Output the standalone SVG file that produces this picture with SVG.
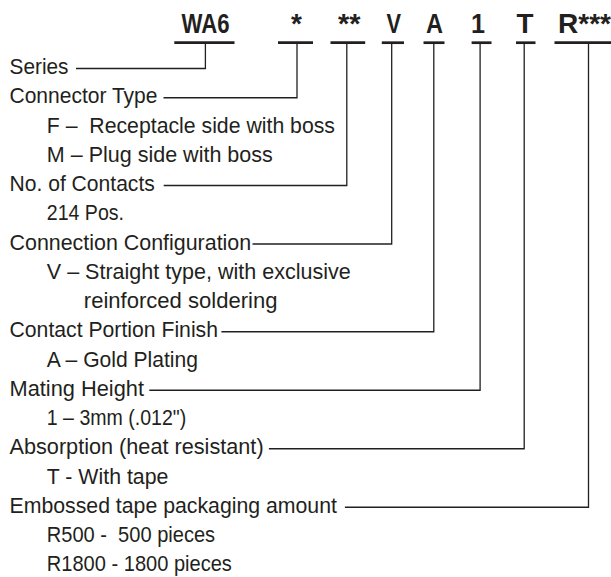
<svg xmlns="http://www.w3.org/2000/svg" width="611" height="577" viewBox="0 0 611 577">
<style>
.code{font-family:"Liberation Sans",Arial,sans-serif;font-weight:bold;font-size:28px;fill:#231f20}
.lbl{font-family:"Liberation Sans",Arial,sans-serif;font-size:21.5px;fill:#231f20}
.bar{stroke:#231f20;stroke-width:2.7;fill:none}
.con{stroke:#231f20;stroke-width:1.3;fill:none}
</style>
<rect width="611" height="577" fill="#ffffff"/>
<g id="codes">
<g id="code-wa6"><text class="code" x="181.5" y="32.5" textLength="48" lengthAdjust="spacingAndGlyphs">WA6</text><line class="bar" x1="174.3" y1="42.7" x2="234.5" y2="42.7"/></g>
<g id="code-type"><text class="code" x="296.5" y="32.5" text-anchor="middle">*</text><line class="bar" x1="278" y1="42.7" x2="313" y2="42.7"/></g>
<g id="code-contacts"><text class="code" x="338" y="32.5" textLength="22.5" lengthAdjust="spacingAndGlyphs">**</text><line class="bar" x1="330.5" y1="42.7" x2="365.2" y2="42.7"/></g>
<g id="code-config"><text class="code" x="386.5" y="32.5" textLength="14.5" lengthAdjust="spacingAndGlyphs">V</text><line class="bar" x1="381.8" y1="42.7" x2="404" y2="42.7"/></g>
<g id="code-finish"><text class="code" x="426" y="32.5" textLength="17" lengthAdjust="spacingAndGlyphs">A</text><line class="bar" x1="423.5" y1="42.7" x2="444.5" y2="42.7"/></g>
<g id="code-height"><text class="code" x="471" y="32.5" textLength="14" lengthAdjust="spacingAndGlyphs">1</text><line class="bar" x1="471.6" y1="42.7" x2="491.5" y2="42.7"/></g>
<g id="code-absorb"><text class="code" x="516.5" y="32.5" textLength="17" lengthAdjust="spacingAndGlyphs">T</text><line class="bar" x1="516" y1="42.7" x2="535.5" y2="42.7"/></g>
<g id="code-pack"><text class="code" x="558" y="32.5" textLength="53" lengthAdjust="spacingAndGlyphs">R***</text><line class="bar" x1="554.5" y1="42.7" x2="611" y2="42.7"/></g>
</g>
<g id="connectors">
<polyline class="con" points="205.4,44 205.4,68.5 76,68.5"/>
<polyline class="con" points="297,44 297,97.75 163.5,97.75"/>
<polyline class="con" points="346.8,44 346.8,185.5 163.7,185.5"/>
<polyline class="con" points="391.7,44 391.7,244 252.5,244"/>
<polyline class="con" points="433.8,44 433.8,331.75 221.4,331.75"/>
<polyline class="con" points="480.1,44 480.1,390.25 149.3,390.25"/>
<polyline class="con" points="524.2,44 524.2,448.75 268.9,448.75"/>
<polyline class="con" points="588.5,44 588.5,507.25 344.9,507.25"/>
</g>
<g id="label-series"><text class="lbl" x="9.5" y="74" textLength="59" lengthAdjust="spacingAndGlyphs">Series</text></g>
<g id="label-type">
<text class="lbl" x="9.5" y="103.25" textLength="148" lengthAdjust="spacingAndGlyphs">Connector Type</text>
<text class="lbl" x="46.8" y="132.5" textLength="288.2" lengthAdjust="spacingAndGlyphs" xml:space="preserve">F –  Receptacle side with boss</text>
<text class="lbl" x="46.8" y="161.75" textLength="226" lengthAdjust="spacingAndGlyphs">M – Plug side with boss</text>
</g>
<g id="label-contacts">
<text class="lbl" x="9.5" y="191" textLength="145.3" lengthAdjust="spacingAndGlyphs">No. of Contacts</text>
<text class="lbl" x="46.8" y="220.25" textLength="77.2" lengthAdjust="spacingAndGlyphs">214 Pos.</text>
</g>
<g id="label-config">
<text class="lbl" x="9.5" y="249.5" textLength="241.7" lengthAdjust="spacingAndGlyphs">Connection Configuration</text>
<text class="lbl" x="46.8" y="278.75" textLength="303.9" lengthAdjust="spacingAndGlyphs">V – Straight type, with exclusive</text>
<text class="lbl" x="83.8" y="308" textLength="193.7" lengthAdjust="spacingAndGlyphs">reinforced soldering</text>
</g>
<g id="label-finish">
<text class="lbl" x="9.5" y="337.25" textLength="208.5" lengthAdjust="spacingAndGlyphs">Contact Portion Finish</text>
<text class="lbl" x="46.8" y="366.5" textLength="151.2" lengthAdjust="spacingAndGlyphs">A – Gold Plating</text>
</g>
<g id="label-height">
<text class="lbl" x="9.5" y="395.75" textLength="134.5" lengthAdjust="spacingAndGlyphs">Mating Height</text>
<text class="lbl" x="46.8" y="425" textLength="139.5" lengthAdjust="spacingAndGlyphs">1 – 3mm (.012")</text>
</g>
<g id="label-absorb">
<text class="lbl" x="9.5" y="454.25" textLength="254.1" lengthAdjust="spacingAndGlyphs">Absorption (heat resistant)</text>
<text class="lbl" x="46.8" y="483.5" textLength="121.6" lengthAdjust="spacingAndGlyphs">T - With tape</text>
</g>
<g id="label-pack">
<text class="lbl" x="9.5" y="512.75" textLength="327.4" lengthAdjust="spacingAndGlyphs">Embossed tape packaging amount</text>
<text class="lbl" x="46.8" y="542" textLength="168.3" lengthAdjust="spacingAndGlyphs" xml:space="preserve">R500 -  500 pieces</text>
<text class="lbl" x="46.8" y="571.25" textLength="185.1" lengthAdjust="spacingAndGlyphs">R1800 - 1800 pieces</text>
</g>
</svg>
